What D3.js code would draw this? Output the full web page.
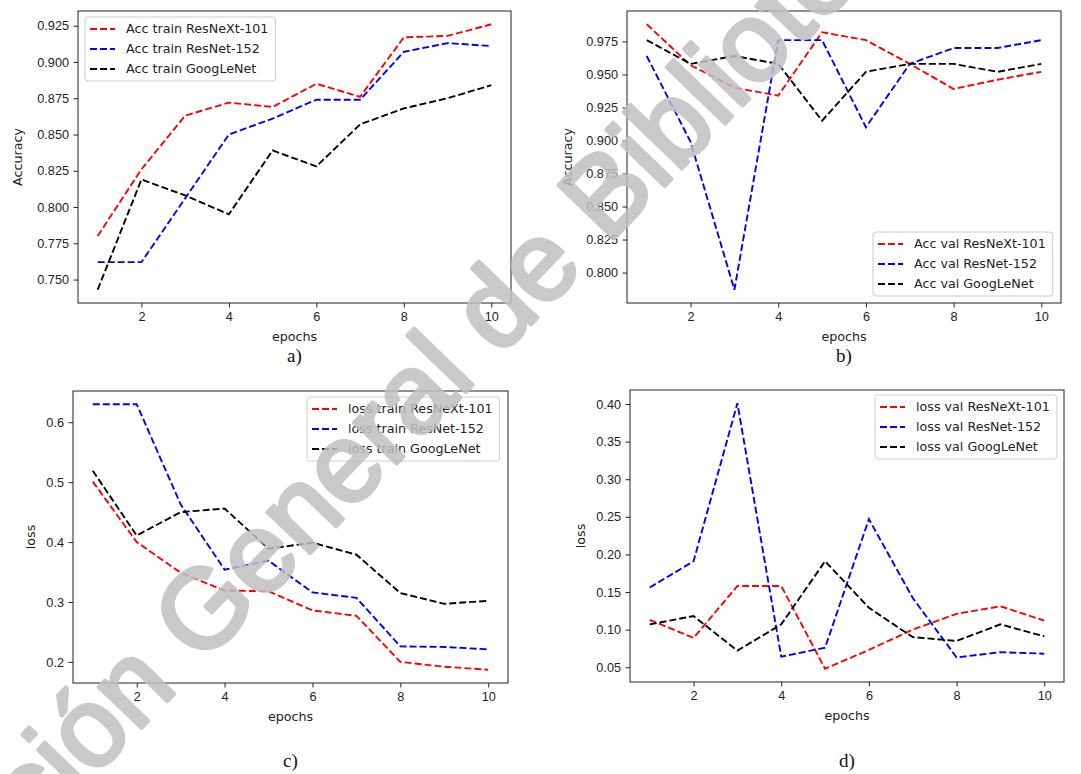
<!DOCTYPE html>
<html lang="en">
<head>
<meta charset="UTF-8">
<title>Training curves</title>
<script src="https://d3js.org/d3.v7.min.js"></script>
<style>
  body { margin: 0; background: #fff; }
  svg { display: block; font-family: 'DejaVu Sans', sans-serif; }
  .tick text { font-size: 12.7px; fill: #222; }
  .tick line, .domain { stroke: #222; }
  .axlabel { font-size: 12.7px; fill: #222; }
  .legend text { font-size: 12.7px; fill: #222; }
  .caption { font-family: 'Liberation Serif', 'Times New Roman', serif; font-size: 19px; fill: #111; }
</style>
</head>
<body>
<svg width="1081" height="774"></svg>
<script>
const epochs = [1, 2, 3, 4, 5, 6, 7, 8, 9, 10];
const xTicks = [2, 4, 6, 8, 10];

const accTrainResNeXt = [0.780, 0.826, 0.863, 0.872, 0.869, 0.885, 0.876, 0.917, 0.918, 0.926];
const accTrainResNet  = [0.762, 0.762, 0.806, 0.850, 0.861, 0.874, 0.874, 0.907, 0.913, 0.911];
const accTrainGoogLe  = [0.743, 0.819, 0.808, 0.795, 0.839, 0.828, 0.857, 0.868, 0.875, 0.884];

const accValResNeXt = [0.988, 0.957, 0.940, 0.934, 0.982, 0.976, 0.958, 0.939, 0.946, 0.952];
const accValResNet  = [0.964, 0.899, 0.787, 0.976, 0.976, 0.910, 0.958, 0.970, 0.970, 0.976];
const accValGoogLe  = [0.976, 0.958, 0.964, 0.958, 0.915, 0.952, 0.958, 0.958, 0.952, 0.958];

const lossTrainResNeXt = [0.501, 0.400, 0.349, 0.319, 0.318, 0.286, 0.277, 0.200, 0.192, 0.187];
const lossTrainResNet  = [0.630, 0.630, 0.463, 0.354, 0.369, 0.316, 0.307, 0.226, 0.225, 0.221];
const lossTrainGoogLe  = [0.519, 0.411, 0.450, 0.456, 0.389, 0.399, 0.379, 0.315, 0.297, 0.302];

const lossValResNeXt = [0.113, 0.089, 0.158, 0.158, 0.048, 0.073, 0.100, 0.121, 0.131, 0.112];
const lossValResNet  = [0.156, 0.191, 0.401, 0.064, 0.076, 0.247, 0.142, 0.063, 0.070, 0.068];
const lossValGoogLe  = [0.107, 0.118, 0.072, 0.107, 0.191, 0.129, 0.090, 0.085, 0.107, 0.091];

const accTrainTicks  = [0.750, 0.775, 0.800, 0.825, 0.850, 0.875, 0.900, 0.925];
const accValTicks    = [0.800, 0.825, 0.850, 0.875, 0.900, 0.925, 0.950, 0.975];
const lossTrainTicks = [0.2, 0.3, 0.4, 0.5, 0.6];
const lossValTicks   = [0.05, 0.10, 0.15, 0.20, 0.25, 0.30, 0.35, 0.40];

const colors = ["#ff0000", "#0000ff", "#000000"];

const panels = [
  { box: [78, 511, 11, 303], ylabel: "Accuracy", ticks: accTrainTicks, fmt: ".3f", caption: "a)", capY: 362,
    series: [accTrainResNeXt, accTrainResNet, accTrainGoogLe],
    names: ["Acc train ResNeXt-101", "Acc train ResNet-152", "Acc train GoogLeNet"],
    legend: [85, 17], ylabX: 22 },
  { box: [627, 1061, 11, 303], ylabel: "Accuracy", ticks: accValTicks, fmt: ".3f", caption: "b)", capY: 362,
    series: [accValResNeXt, accValResNet, accValGoogLe],
    names: ["Acc val ResNeXt-101", "Acc val ResNet-152", "Acc val GoogLeNet"],
    legend: [873, 232], ylabX: 572 },
  { box: [73, 508, 391, 683], ylabel: "loss", ticks: lossTrainTicks, fmt: ".1f", caption: "c)", capY: 767,
    series: [lossTrainResNeXt, lossTrainResNet, lossTrainGoogLe],
    names: ["loss train ResNeXt-101", "loss train ResNet-152", "loss train GoogLeNet"],
    legend: [307, 397], ylabX: 35 },
  { box: [630, 1064, 390, 682], ylabel: "loss", ticks: lossValTicks, fmt: ".2f", caption: "d)", capY: 767,
    series: [lossValResNeXt, lossValResNet, lossValGoogLe],
    names: ["loss val ResNeXt-101", "loss val ResNet-152", "loss val GoogLeNet"],
    legend: [875, 395], ylabX: 585 }
];

const svg = d3.select("svg");
svg.append("rect").attr("width", 1081).attr("height", 774).attr("fill", "#fff");

panels.forEach(p => {
  const [x0, x1, y0, y1] = p.box;
  const x = d3.scaleLinear().domain([0.55, 10.45]).range([x0, x1]);
  const all = p.series.flat();
  const lo = d3.min(all), hi = d3.max(all), pad = (hi - lo) * 0.05;
  const y = d3.scaleLinear().domain([lo - pad, hi + pad]).range([y1, y0]);

  const g = svg.append("g");

  const line = d3.line().x((d, i) => x(epochs[i])).y(d => y(d));
  p.series.forEach((s, k) => {
    g.append("path")
      .datum(s)
      .attr("d", line)
      .attr("fill", "none")
      .attr("stroke", colors[k])
      .attr("stroke-width", 1.9)
      .attr("stroke-dasharray", "7,3");
  });

  // frame
  g.append("rect")
    .attr("x", x0).attr("y", y0)
    .attr("width", x1 - x0).attr("height", y1 - y0)
    .attr("fill", "none").attr("stroke", "#222").attr("stroke-width", 1);

  g.append("g")
    .attr("transform", `translate(0,${y1})`)
    .call(d3.axisBottom(x).tickValues(xTicks).tickSize(4.5).tickPadding(4.5).tickFormat(d3.format("d")))
    .call(a => a.select(".domain").remove())
    .call(a => a.selectAll("text").attr("font-family", null).attr("font-size", null));

  g.append("g")
    .attr("transform", `translate(${x0},0)`)
    .call(d3.axisLeft(y).tickValues(p.ticks).tickSize(4.5).tickPadding(4.5).tickFormat(d3.format(p.fmt)))
    .call(a => a.select(".domain").remove())
    .call(a => a.selectAll("text").attr("font-family", null).attr("font-size", null));

  g.append("text").attr("class", "axlabel")
    .attr("x", (x0 + x1) / 2).attr("y", y1 + 38)
    .attr("text-anchor", "middle").text("epochs");

  g.append("text").attr("class", "axlabel")
    .attr("transform", `translate(${p.ylabX},${(y0 + y1) / 2}) rotate(-90)`)
    .attr("text-anchor", "middle").text(p.ylabel);

  g.append("text").attr("class", "caption")
    .attr("x", (x0 + x1) / 2).attr("y", p.capY)
    .attr("text-anchor", "middle").text(p.caption);

  // legend
  const [lx, ly] = p.legend;
  const lg = g.append("g").attr("class", "legend");
  const frame = lg.append("rect")
    .attr("x", lx).attr("y", ly).attr("height", 64)
    .attr("rx", 3).attr("fill", "#fff").attr("fill-opacity", 0.8)
    .attr("stroke", "#cccccc").attr("stroke-width", 1);
  let maxW = 0;
  p.names.forEach((n, k) => {
    const cy = ly + 12 + k * 20;
    lg.append("line")
      .attr("x1", lx + 5).attr("x2", lx + 30)
      .attr("y1", cy).attr("y2", cy)
      .attr("stroke", colors[k]).attr("stroke-width", 1.9)
      .attr("stroke-dasharray", "7,3");
    const t = lg.append("text")
      .attr("x", lx + 41).attr("y", cy).attr("dy", "0.35em")
      .text(n);
    maxW = Math.max(maxW, t.node().getComputedTextLength());
  });
  frame.attr("width", 41 + maxW + 7);
});

// watermark, placed so the "B" of "Bibliotecas" sits where it does in the scan
const wmSize = 112, wmAngle = 46;
const rad = wmAngle * Math.PI / 180;
const wm = svg.append("g").attr("opacity", 0.85);
const wt = wm.append("text")
  .attr("font-family", "'Liberation Sans', Arial, sans-serif")
  .attr("font-size", wmSize)
  .attr("fill", "#c0c0c0")
  .attr("stroke", "#c0c0c0")
  .attr("stroke-width", 4)
  .attr("stroke-linejoin", "round");
const pre = wt.text("Dirección General de ").node().getComputedTextLength();
const wB = wt.text("B").node().getComputedTextLength();
const ux = Math.cos(rad), uy = -Math.sin(rad);
const upx = -Math.sin(rad), upy = -Math.cos(rad);
const capH = 0.716 * wmSize;
const cx = 583, cy = 213;
const sx = cx - (wB / 2) * ux - (capH / 2) * upx;
const sy = cy - (wB / 2) * uy - (capH / 2) * upy;
wt.text("Dirección General de Bibliotecas UNAM")
  .attr("x", -pre)
  .attr("transform", `translate(${sx},${sy}) rotate(${-wmAngle})`);
</script>
</body>
</html>
